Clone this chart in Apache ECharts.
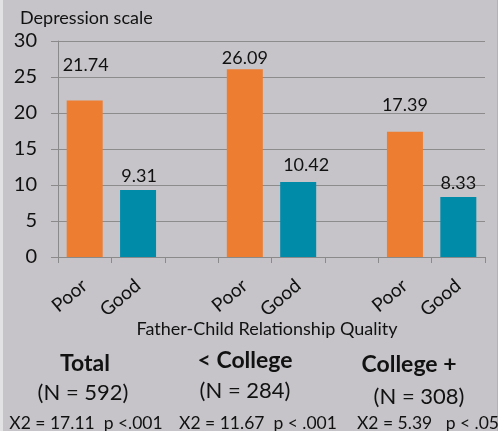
<!DOCTYPE html>
<html>
<head>
<meta charset="utf-8">
<script src="https://cdn.jsdelivr.net/npm/echarts@6/dist/echarts.min.js"></script>
<style>
  html, body { margin: 0; padding: 0; background: #c6c4c8; }
  #chart { width: 498px; height: 431px; }
</style>
</head>
<body>
<div id="chart"></div>
<script>
// Category slots: three groups of Poor/Good with an empty slot between groups
const categories = ['Poor', 'Good', '', 'Poor', 'Good', '', 'Poor', 'Good'];
const poorValues = [21.74, 26.09, 17.39];
const goodValues = [9.31, 10.42, 8.33];
const groupNames = ['Total', '< College', 'College +'];
const groupN = ['(N = 592)', '(N = 284)', '(N = 308)'];
const groupStats = ['X2 = 17.11  p <.001', 'X2 = 11.67  p < .001', 'X2 = 5.39   p < .05'];
const yTicks = { min: 0, max: 30, interval: 5 };

const ORANGE = '#ed7d31';
const TEAL = '#008ba9';
const FONT = 'Lato';

// label nudges so the value texts sit where the author placed them
const poorLabelOffset = [[1, -21], [0, 3], [0, -13]];
const goodLabelOffset = [[1, 0], [8, -3], [0, 0]];

const seriesData = [];
for (let g = 0; g < 3; g++) {
  seriesData.push({
    value: poorValues[g],
    itemStyle: { color: ORANGE },
    label: { offset: poorLabelOffset[g] }
  });
  seriesData.push({
    value: goodValues[g],
    itemStyle: { color: TEAL },
    label: { offset: goodLabelOffset[g] }
  });
  if (g < 2) seriesData.push('-');
}

const chart = echarts.init(document.getElementById('chart'));

const graphics = [
  { type: 'rect', left: 0, top: 0, shape: { width: 3, height: 431 }, style: { fill: '#e2e1e3' }, silent: true },
  { type: 'rect', left: 497, top: 0, shape: { width: 1, height: 431 }, style: { fill: '#b4b2b6' }, silent: true },
  { type: 'text', left: 20, top: 9, style: { text: 'Depression scale', font: '18px ' + FONT, fill: '#111' } },
  { type: 'text', x: 267, y: 329, style: { text: 'Father-Child Relationship Quality', font: '18px ' + FONT, fill: '#111', textAlign: 'center', textVerticalAlign: 'middle' } }
];
const nameX = [85, 245, 409];
const nameY = [364, 361, 365];
const nX = [83, 245, 419];
const nY = [393, 391, 397];
const statX = [86, 258, 428];
for (let g = 0; g < 3; g++) {
  graphics.push({ type: 'text', x: nameX[g], y: nameY[g], style: { text: groupNames[g], font: 'bold 23px ' + FONT, fill: '#111', textAlign: 'center', textVerticalAlign: 'middle' } });
  graphics.push({ type: 'text', x: nX[g], y: nY[g], style: { text: groupN[g], font: '22px ' + FONT, fill: '#111', textAlign: 'center', textVerticalAlign: 'middle' } });
  graphics.push({ type: 'text', x: statX[g], y: 423, style: { text: groupStats[g], font: '17.5px ' + FONT, fill: '#111', textAlign: 'center', textVerticalAlign: 'middle', whiteSpace: 'pre' } });
}

chart.setOption({
  backgroundColor: '#c6c4c8',
  animation: false,
  grid: { left: 58, right: 13, top: 41, bottom: 174, containLabel: false },
  xAxis: {
    type: 'category',
    data: categories,
    boundaryGap: true,
    axisLine: { show: true, lineStyle: { color: '#8a8a8a', width: 1 } },
    axisTick: { show: true, length: 6, lineStyle: { color: '#8a8a8a' }, interval: 0 },
    axisLabel: { interval: 0, rotate: 40, margin: 26, fontFamily: FONT, fontSize: 19, color: '#111' }
  },
  yAxis: {
    type: 'value',
    min: yTicks.min,
    max: yTicks.max,
    interval: yTicks.interval,
    axisLine: { show: true, lineStyle: { color: '#8a8a8a', width: 1 } },
    axisTick: { show: true, length: 7, lineStyle: { color: '#8a8a8a' } },
    axisLabel: { margin: 21, fontFamily: FONT, fontSize: 20, color: '#111' },
    splitLine: { show: true, lineStyle: { color: '#8c8c8c', width: 1 } }
  },
  series: [{
    type: 'bar',
    data: seriesData,
    barWidth: 36,
    label: {
      show: true,
      position: 'top',
      distance: 5,
      fontFamily: FONT,
      fontSize: 18,
      color: '#111',
      formatter: p => p.value.toFixed(2)
    }
  }],
  graphic: graphics
});
</script>
</body>
</html>
